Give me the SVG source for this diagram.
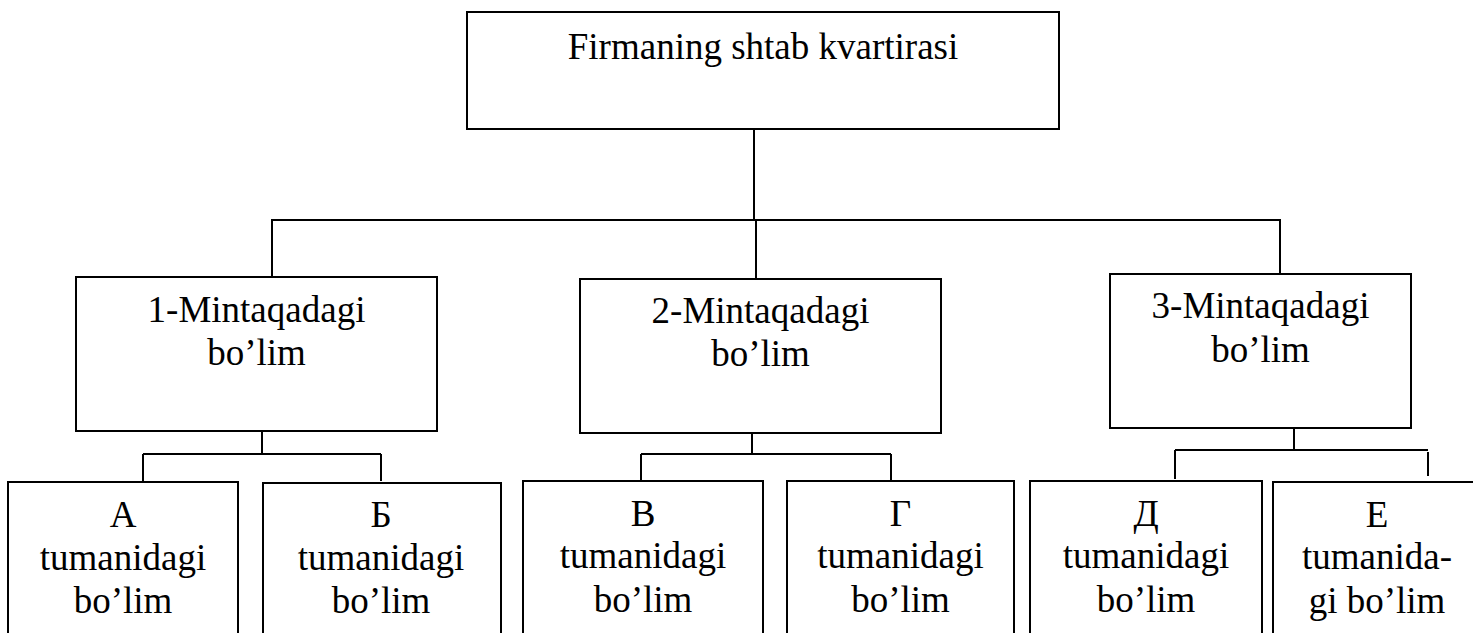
<svg xmlns="http://www.w3.org/2000/svg" width="1473" height="633" viewBox="0 0 1473 633">
  <style>
    .box { fill: #ffffff; stroke: #000000; stroke-width: 2; }
    .wire { fill: none; stroke: #000000; stroke-width: 2; }
    .lbl { font-family: "Liberation Serif", "Times New Roman", serif; font-size: 37px; fill: #000000; text-anchor: middle; }
  </style>
  <rect x="0" y="0" width="1473" height="633" fill="#ffffff"/>

  <!-- connectors -->
  <g id="connectors" class="wire">
    <path d="M754 129 V220"/>
    <path d="M271 220 H1281"/>
    <path d="M272 220 V277"/>
    <path d="M756 220 V279"/>
    <path d="M1280 220 V274"/>

    <path d="M262 431 V454"/>
    <path d="M143 454 H381"/>
    <path d="M143 454 V482"/>
    <path d="M381 454 V481"/>

    <path d="M752 433 V454"/>
    <path d="M641 454 H891"/>
    <path d="M641 454 V481"/>
    <path d="M891 454 V480"/>

    <path d="M1294 428 V450"/>
    <path d="M1175 450 H1428"/>
    <path d="M1175 450 V479"/>
    <path d="M1428 452 V476"/>
  </g>

  <!-- head office -->
  <g id="hq">
    <rect class="box" x="467" y="12" width="592" height="117"/>
    <text class="lbl" x="763" y="59">Firmaning shtab kvartirasi</text>
  </g>

  <!-- regional divisions -->
  <g id="region1">
    <rect class="box" x="76" y="277" width="361" height="154"/>
    <text class="lbl" x="256.5" y="322">1-Mintaqadagi</text>
    <text class="lbl" x="256.5" y="365">bo’lim</text>
  </g>
  <g id="region2">
    <rect class="box" x="580" y="279" width="361" height="154"/>
    <text class="lbl" x="760.5" y="323">2-Mintaqadagi</text>
    <text class="lbl" x="760.5" y="366">bo’lim</text>
  </g>
  <g id="region3">
    <rect class="box" x="1110" y="274" width="301" height="154"/>
    <text class="lbl" x="1260.5" y="318">3-Mintaqadagi</text>
    <text class="lbl" x="1260.5" y="362">bo’lim</text>
  </g>

  <!-- district divisions (run off the bottom edge) -->
  <g id="districtA">
    <rect class="box" x="8" y="482" width="230" height="170"/>
    <text class="lbl" x="123" y="527">А</text>
    <text class="lbl" x="123" y="570">tumanidagi</text>
    <text class="lbl" x="123" y="613">bo’lim</text>
  </g>
  <g id="districtB">
    <rect class="box" x="263" y="483" width="238" height="170"/>
    <text class="lbl" x="381" y="527">Б</text>
    <text class="lbl" x="381" y="570">tumanidagi</text>
    <text class="lbl" x="381" y="613">bo’lim</text>
  </g>
  <g id="districtV">
    <rect class="box" x="523" y="481" width="240" height="170"/>
    <text class="lbl" x="643" y="526">В</text>
    <text class="lbl" x="643" y="568">tumanidagi</text>
    <text class="lbl" x="643" y="612">bo’lim</text>
  </g>
  <g id="districtG">
    <rect class="box" x="787" y="481" width="227" height="170"/>
    <text class="lbl" x="900.5" y="526">Г</text>
    <text class="lbl" x="900.5" y="568">tumanidagi</text>
    <text class="lbl" x="900.5" y="612">bo’lim</text>
  </g>
  <g id="districtD">
    <rect class="box" x="1030" y="481" width="232" height="170"/>
    <text class="lbl" x="1146" y="526">Д</text>
    <text class="lbl" x="1146" y="568">tumanidagi</text>
    <text class="lbl" x="1146" y="612">bo’lim</text>
  </g>
  <g id="districtE">
    <rect class="box" x="1273" y="482" width="220" height="170"/>
    <text class="lbl" x="1377" y="527">Е</text>
    <text class="lbl" x="1377" y="569">tumanida-</text>
    <text class="lbl" x="1377" y="613">gi bo’lim</text>
  </g>
</svg>
